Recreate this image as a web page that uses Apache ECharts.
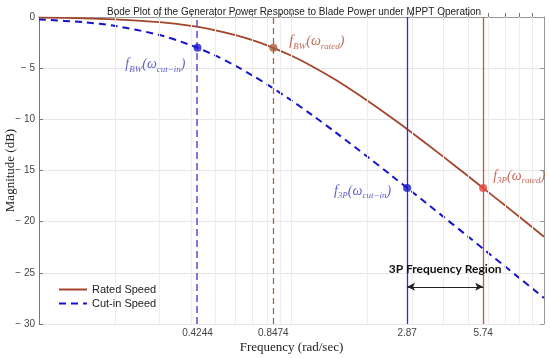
<!DOCTYPE html>
<html>
<head>
<meta charset="utf-8">
<script src="https://cdn.jsdelivr.net/npm/echarts@6/dist/echarts.min.js"></script>
<style>
html, body { margin: 0; padding: 0; background: #fff; }
#main { width: 550px; height: 358px; }
</style>
</head>
<body>
<div id="main"></div>
<script>
// frequency samples (rad/sec) and magnitudes (dB)
var freqs = [0.1, 0.15, 0.2, 0.3, 0.4, 0.5, 0.6, 0.7, 0.8, 1, 1.2, 1.5, 2, 2.5, 3, 4, 5, 6, 7, 8, 10];
var ratedDb = [-0.06, -0.13, -0.24, -0.51, -0.87, -1.30, -1.77, -2.26, -2.77, -3.79, -4.78, -6.16, -8.18, -9.87, -11.31, -13.67, -15.54, -17.09, -18.40, -19.55, -21.47];
var cutinDb = [-0.24, -0.51, -0.87, -1.76, -2.76, -3.78, -4.77, -5.71, -6.58, -8.16, -9.54, -11.30, -13.66, -15.53, -17.07, -19.53, -21.45, -23.03, -24.36, -25.52, -27.45];

// marked frequencies
var tickFreqs = [0.4244, 0.8474, 2.87, 5.74];
var tickLabels = ['0.4244', '0.8474', '2.87', '5.74'];
var markDb = [-3.01, -3.01, -16.70, -16.70];

// log grid lines
var gridFreqs = [0.2, 0.3, 0.4, 0.5, 0.6, 0.7, 0.8, 0.9, 1, 2, 3, 4, 5, 6, 7, 8, 9];

var rated = 'Rated Speed';
var cutin = 'Cut-in Speed';

function pairs(xs, ys) {
	var out = [];
	for (var i = 0; i < xs.length; i++) {
		out.push([xs[i], ys[i]]);
	}
	return out;
}

var mathRich = {
	m: { fontFamily: 'Liberation Serif', fontStyle: 'italic', fontSize: 14, lineHeight: 18 },
	s: { fontFamily: 'Liberation Serif', fontStyle: 'italic', fontSize: 9, lineHeight: 10, verticalAlign: 'bottom' }
};

function mathLabel(sub1, sub2, color, pos, dist, off) {
	var rich = {};
	for (var k in mathRich) {
		rich[k] = Object.assign({ color: color }, mathRich[k]);
	}
	return {
		show: true,
		position: pos,
		distance: dist,
		offset: off,
		formatter: '{m|f}{s|' + sub1 + '}{m|(ω}{s|' + sub2 + '}{m|)}',
		rich: rich
	};
}

var markColors = ['#1818c8', '#a8603e', '#1818c8', '#e8453c'];
var markLabels = [
	mathLabel('BW', 'cut−in', '#3a3ac0', 'left', 8, [0, 17]),
	mathLabel('BW', 'rated', '#a8482c', 'right', 12, [0, -6]),
	mathLabel('3P', 'cut−in', '#3a3ac0', 'left', 12, [0, 3]),
	mathLabel('3P', 'rated', '#b8442c', 'right', 6, [0, -12])
];
var markData = [];
for (var i = 0; i < tickFreqs.length; i++) {
	markData.push({
		value: [tickFreqs[i], markDb[i]],
		itemStyle: { color: markColors[i] },
		label: markLabels[i]
	});
}

var vlineStyles = [
	{ color: '#5a4ed0', type: [7, 4], width: 1.5 },
	{ color: '#a8644c', type: [6, 4], width: 1.3 },
	{ color: '#2a2ae0', type: 'solid', width: 1.3 },
	{ color: '#c8553a', type: 'solid', width: 1.3 }
];
var vlines = [];
for (var i = 0; i < tickFreqs.length; i++) {
	vlines.push({ xAxis: tickFreqs[i], lineStyle: vlineStyles[i] });
}

var gridLines = [];
for (var i = 0; i < gridFreqs.length; i++) {
	gridLines.push({ xAxis: gridFreqs[i] });
}

var myChart = echarts.init(document.getElementById('main'));
var option = {
	animation: false,
	title: {
		text: 'Bode Plot of the Generator Power Response to Blade Power under MPPT Operation',
		left: 102,
		top: 2,
		textStyle: { fontFamily: 'Liberation Sans', fontSize: 10, fontWeight: 'normal', color: '#222' }
	},
	legend: {
		data: [rated, cutin],
		orient: 'vertical',
		left: 54,
		top: 281,
		padding: [3, 4],
		backgroundColor: '#fff',
		itemWidth: 28,
		itemHeight: 10,
		itemGap: 3,
		itemStyle: { opacity: 0 },
		textStyle: { fontFamily: 'Liberation Sans', fontSize: 11, color: '#222' }
	},
	grid: { left: 39, right: 6, top: 17, bottom: 34, outerBoundsMode: 'none' },
	xAxis: [{
		type: 'log',
		logBase: 10,
		min: 0.1,
		max: 10,
		position: 'bottom',
		name: 'Frequency (rad/sec)',
		nameLocation: 'middle',
		nameGap: 17,
		nameMoveOverlap: false,
		nameTextStyle: { fontFamily: 'Liberation Serif', fontSize: 13, color: '#222' },
		axisLine: { lineStyle: { color: '#777' } },
		axisTick: { inside: true, length: 4, customValues: gridFreqs, lineStyle: { color: '#777' } },
		axisLabel: {
			customValues: tickFreqs,
			margin: 4,
			fontFamily: 'Liberation Sans',
			fontSize: 10,
			color: '#444',
			formatter: function (v) {
				for (var i = 0; i < tickFreqs.length; i++) {
					if (Math.abs(tickFreqs[i] - v) < 1e-3) return tickLabels[i];
				}
				return '';
			}
		},
		splitLine: { show: false }
	}, {
		type: 'log',
		logBase: 10,
		min: 0.1,
		max: 10,
		position: 'top',
		axisLine: { lineStyle: { color: '#999' } },
		axisTick: { inside: true, length: 4, customValues: gridFreqs, lineStyle: { color: '#999' } },
		axisLabel: { show: false },
		splitLine: { show: false }
	}],
	yAxis: [{
		type: 'value',
		min: -30,
		max: 0,
		interval: 5,
		name: 'Magnitude (dB)',
		nameLocation: 'middle',
		nameGap: 22,
		nameMoveOverlap: false,
		nameTextStyle: { fontFamily: 'Liberation Serif', fontSize: 13, color: '#222' },
		axisLine: { show: true, lineStyle: { color: '#777' } },
		axisTick: { show: true, inside: true, length: 4, lineStyle: { color: '#777' } },
		axisLabel: {
			margin: 4,
			fontFamily: 'Liberation Sans',
			fontSize: 10,
			color: '#444',
			formatter: function (v) {
				return v === 0 ? '0' : '− ' + (-v);
			}
		},
		splitLine: { lineStyle: { color: '#e6e6e6' } }
	}, {
		type: 'value',
		min: -30,
		max: 0,
		interval: 5,
		position: 'right',
		axisLine: { show: true, lineStyle: { color: '#999' } },
		axisTick: { show: true, inside: true, length: 4, lineStyle: { color: '#999' } },
		axisLabel: { show: false },
		splitLine: { show: false }
	}],
	series: [{
		// faint log grid
		type: 'line',
		data: [],
		silent: true,
		markLine: {
			silent: true,
			symbol: ['none', 'none'],
			label: { show: false },
			lineStyle: { color: '#ececec', type: 'solid', width: 1 },
			data: gridLines
		}
	}, {
		name: rated,
		type: 'line',
		data: pairs(freqs, ratedDb),
		smooth: 0.3,
		symbol: 'none',
		color: '#a4452a',
		lineStyle: { width: 1.8, color: '#a4452a' },
		z: 3
	}, {
		name: cutin,
		type: 'line',
		data: pairs(freqs, cutinDb),
		smooth: 0.3,
		symbol: 'none',
		color: '#1414cc',
		lineStyle: { width: 2, type: [7, 5], color: '#1414cc' },
		z: 3
	}, {
		// frequency markers and the 3P region arrow
		type: 'line',
		data: [],
		silent: true,
		markLine: {
			silent: true,
			symbol: ['none', 'none'],
			label: { show: false },
			data: vlines.concat([[
				{ coord: [tickFreqs[2], -26.37], symbol: 'arrow', symbolSize: [6, 8] },
				{
					coord: [tickFreqs[3], -26.37], symbol: 'arrow', symbolSize: [6, 8],
					lineStyle: { color: '#222', type: 'solid', width: 1 },
					label: {
						show: true,
						position: 'middle',
						distance: 12,
						formatter: '3P Frequency Region',
						fontFamily: 'Lato',
						fontWeight: 'bold',
						fontSize: 12,
						color: '#111'
					}
				}
			]])
		},
		z: 2
	}, {
		type: 'scatter',
		symbolSize: 8,
		data: markData,
		z: 5
	}]
};
myChart.setOption(option);
</script>
</body>
</html>
